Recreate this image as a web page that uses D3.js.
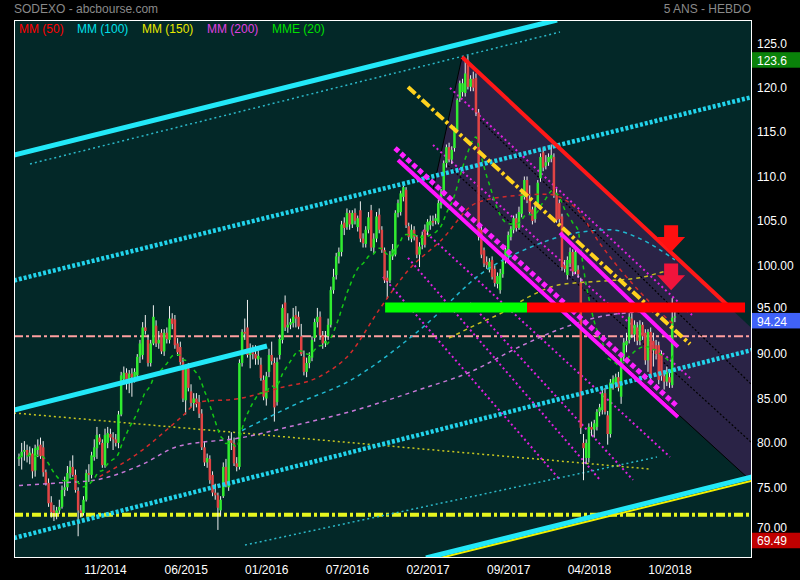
<!DOCTYPE html>
<html><head><meta charset="utf-8">
<script src="https://cdn.jsdelivr.net/npm/d3@7"></script>
<style>body{margin:0;background:#000;}svg{display:block;font-family:"Liberation Sans",Arial,sans-serif;}</style>
</head><body><svg id="c" width="800" height="580"></svg>
<script>
// ---- weekly OHLC (bar index 0..244) ----
const open=[78.2,78.4,79.0,79.2,78.6,78.8,76.9,79.2,79.8,79.5,76.7,75.5,73.3,72.4,72.1,72.4,72.8,74.7,75.0,76.6,
77.3,76.4,74.6,72.4,72.1,73.6,76.6,76.4,78.4,79.4,80.6,80.0,77.5,80.0,81.0,80.6,80.4,80.0,83.2,87.2,
87.9,87.0,87.8,87.4,87.6,89.7,89.9,93.0,91.6,89.0,91.2,93.2,91.2,92.4,90.3,92.4,91.6,94.0,93.9,91.2,
90.8,89.1,84.8,88.4,85.8,84.5,85.0,84.6,83.3,79.5,77.8,78.2,76.4,74.4,74.1,72.4,74.0,77.3,75.0,80.3,
80.0,77.7,77.3,89.0,92.5,93.0,89.9,90.2,90.0,89.4,88.8,87.1,85.0,88.0,89.9,89.0,84.6,89.9,91.6,95.8,
93.0,93.3,93.5,94.4,94.2,92.0,89.7,88.0,89.0,89.6,91.8,93.6,94.2,92.1,91.2,92.0,93.3,97.2,98.9,101.0,
101.5,104.8,104.3,105.9,104.6,105.9,104.3,106.2,103.0,102.4,104.0,106.2,102.0,103.0,105.7,104.0,101.7,98.6,98.3,101.0,
101.2,105.9,106.0,107.7,108.5,104.4,103.0,104.0,103.2,101.2,102.3,104.0,103.8,104.5,105.0,105.0,104.8,106.8,108.1,111.5,
113.3,111.9,113.2,115.2,118.8,119.5,119.4,123.1,120.1,121.0,121.1,117.2,104.0,101.7,100.4,99.5,100.6,99.6,97.9,97.2,
99.0,100.6,101.0,103.2,104.0,105.3,104.2,105.8,107.7,109.6,107.3,106.3,105.2,107.0,109.8,112.7,111.2,111.6,112.0,112.2,
108.1,107.0,105.5,100.0,98.9,100.2,101.5,99.3,99.5,98.1,80.0,78.3,78.3,81.8,81.5,81.8,83.5,83.7,85.6,83.1,
81.0,86.6,86.8,87.4,85.2,89.7,91.0,91.6,94.0,92.2,93.0,91.5,93.3,92.4,89.3,92.5,91.5,91.0,91.0,90.0,
87.5,86.9,87.4,86.5,94.1];
const high=[78.8,80.0,80.2,79.8,79.6,79.4,79.8,80.4,80.6,80.2,77.0,76.0,74.0,73.0,72.8,73.6,75.2,76.2,77.4,78.0,
78.6,77.0,75.0,73.0,74.0,77.0,77.6,79.0,80.4,81.8,81.0,80.4,81.6,81.8,81.6,81.2,81.0,83.6,88.0,88.6,
88.4,88.2,88.4,88.4,90.0,91.6,93.6,94.4,92.2,91.6,95.5,93.8,92.6,92.8,92.8,93.0,95.4,94.6,94.4,91.8,
91.4,89.6,88.8,89.0,86.6,85.6,85.6,85.4,83.8,80.2,78.8,78.6,76.8,75.4,74.4,74.0,77.8,78.2,80.8,81.2,
80.6,78.4,89.4,92.8,94.0,96.1,91.2,91.0,91.0,90.4,89.6,87.6,88.0,90.6,91.4,89.6,89.6,92.2,95.6,96.6,
94.6,94.0,95.2,95.4,94.8,93.4,90.4,89.6,90.2,92.0,94.0,95.2,94.8,92.6,92.6,94.0,97.6,99.6,101.4,102.0,
105.0,105.4,106.4,106.2,106.2,106.4,105.6,107.2,103.6,104.4,106.0,106.8,103.6,106.0,106.4,104.4,102.0,99.4,101.6,102.4,
106.2,107.4,108.4,109.2,108.8,104.8,104.6,104.4,103.4,102.6,103.8,104.6,105.2,105.6,105.6,105.8,107.4,108.6,111.8,113.6,
113.8,113.4,115.6,118.8,120.8,121.0,123.3,123.6,121.4,121.8,121.6,117.6,104.4,102.0,101.0,100.8,101.0,100.0,99.2,99.6,
100.8,102.2,103.8,104.4,105.6,105.8,106.6,108.4,110.0,110.0,109.0,106.6,106.8,109.6,112.6,113.2,112.4,112.6,113.6,112.6,
108.6,107.4,105.8,100.6,101.0,102.0,101.8,102.0,100.0,98.6,81.0,80.4,82.2,82.4,82.6,83.8,84.4,86.0,86.2,83.6,
87.2,87.6,87.8,88.0,90.0,91.8,92.4,94.6,94.6,93.8,93.6,93.8,93.6,92.8,92.8,93.0,92.4,91.6,91.4,90.4,
88.0,88.6,88.0,96.3,94.8];
const low=[77.4,77.0,78.0,77.8,77.6,76.0,76.2,78.4,78.2,76.2,75.2,72.8,71.6,71.2,71.4,72.0,72.6,74.0,74.6,76.0,
76.2,74.4,69.49,71.6,71.8,73.4,75.6,76.0,78.0,78.2,79.8,77.2,77.2,79.4,80.2,79.2,79.6,79.4,83.0,86.6,
86.0,85.6,85.2,86.8,87.0,89.0,89.4,92.2,88.6,88.6,91.0,90.8,90.6,90.0,89.8,91.2,91.2,92.8,90.6,89.8,
88.8,84.6,83.2,85.8,84.0,83.6,84.0,82.8,79.2,77.4,77.2,75.4,74.0,73.6,70.2,71.8,73.8,75.0,74.6,79.2,
77.4,76.8,77.0,88.6,91.6,89.6,88.4,89.4,88.8,88.8,87.0,84.8,84.2,87.4,88.8,82.4,84.2,89.4,91.2,92.6,
92.4,92.8,93.0,93.0,92.8,89.8,87.6,87.4,88.4,89.2,91.4,93.0,91.6,90.6,90.8,91.6,93.0,96.8,98.4,100.2,
101.0,103.4,104.0,104.0,104.2,104.6,103.8,102.6,102.0,102.0,103.6,101.6,101.4,102.6,103.6,101.4,98.0,96.2,98.0,100.6,
101.0,105.4,105.6,107.2,104.2,102.8,102.6,102.8,100.8,99.8,101.8,102.0,103.4,104.0,104.4,104.6,104.6,106.4,107.8,111.0,
111.6,111.4,112.8,115.0,118.4,119.0,119.0,119.8,119.6,119.6,116.8,102.8,100.8,99.8,99.6,99.2,98.4,97.6,97.4,96.8,
98.6,100.2,100.6,102.8,103.6,103.8,104.0,105.4,107.4,107.0,105.8,104.6,104.8,106.6,109.4,110.6,110.8,111.2,111.6,107.6,
104.8,104.8,99.4,99.2,98.4,99.8,98.8,99.0,98.6,81.0,75.8,77.6,77.8,80.8,80.6,81.4,83.0,83.2,83.2,79.8,
80.6,86.0,86.2,85.8,84.4,89.2,90.2,91.2,91.8,91.4,91.0,91.0,91.6,88.8,88.0,87.0,88.6,89.4,86.6,87.0,
86.0,86.4,86.2,86.2,93.6];
const close=[78.4,79.0,79.2,78.6,78.9,76.8,79.4,79.6,78.5,76.7,75.4,73.2,72.2,72.1,72.4,72.8,74.7,75.0,76.6,77.3,
76.4,74.7,72.4,72.1,73.6,76.6,76.4,78.6,79.5,80.9,80.1,77.5,80.9,81.1,80.6,80.4,80.0,83.2,87.6,87.9,
87.1,87.8,87.4,88.0,89.7,91.2,93.0,92.6,89.0,91.2,94.2,91.2,91.6,90.3,92.4,91.7,94.0,93.4,91.0,90.2,
89.1,85.0,88.4,86.2,84.5,85.0,84.6,83.3,79.5,77.8,78.3,75.8,74.4,74.1,72.7,73.6,77.3,75.3,80.3,80.0,
77.7,77.3,89.0,92.5,92.3,89.9,90.2,90.0,89.5,89.8,87.3,85.2,87.5,89.9,89.2,84.0,89.1,91.7,95.2,93.0,
93.3,93.6,94.2,94.0,93.1,90.0,88.0,89.0,89.8,91.6,93.6,94.2,92.1,91.2,91.5,93.3,97.2,98.7,101.0,101.5,
104.6,104.2,105.9,104.6,105.9,105.0,105.3,103.0,102.5,104.0,105.4,102.0,103.0,105.5,104.0,101.7,98.3,98.2,101.2,101.8,
105.9,107.0,108.1,108.8,104.5,103.2,104.0,103.2,101.2,102.1,103.4,102.3,104.9,105.0,104.8,105.3,107.0,108.1,111.5,113.3,
111.9,113.0,115.2,118.6,120.5,120.5,121.6,120.1,121.0,120.0,117.2,103.2,101.2,100.2,100.0,100.4,98.7,98.0,98.8,99.1,
100.4,101.8,103.4,104.1,105.3,104.2,106.0,108.1,109.6,107.3,106.0,105.0,106.5,109.3,112.2,111.0,111.6,112.2,112.4,108.0,
105.1,105.2,99.8,99.6,100.6,101.5,99.3,101.5,99.0,81.7,79.4,80.0,81.8,81.5,82.2,83.5,84.0,85.6,83.5,81.0,
86.8,87.2,87.4,86.2,89.7,91.3,91.5,94.2,92.2,93.3,91.5,93.3,92.0,89.3,92.5,87.5,90.5,90.0,87.1,87.5,
86.9,88.0,86.8,94.1,94.24];

// ---- axis ticks ----
const tickIdx=[32,62,92,122,152,182,212,242];
const tickLabels=["11/2014","06/2015","01/2016","07/2016","02/2017","09/2017","04/2018","10/2018"];
const priceTicks=[125,120,115,110,105,100,95,90,85,80,75,70];
const priceTickLabels=["125.0","120.0","115.0","110.0","105.0","100.00","95.00","90.00","85.00","80.00","75.00","70.00"];
const markHigh=123.6, markLast=94.24, markLow=69.49;
const markLabels=["123.6","94.24","69.49"];

// ---- moving averages: [barIndex, price] ----
const mm50=[[30,76.2],[45,79],[60,82.8],[67,84.6],[82,85],[97,86.2],[112,87.5],[123,90],[134,95],[145,99.5],[157,102.8],[170,107],[183,107.8],[196,108],[207,106.5],[216,102.5],[231,97],[244,93.2]];
const mm100=[[83,81.4],[104,84.5],[123,87],[149,92.7],[174,99.5],[190,102],[205,103.5],[220,104],[231,103],[244,100.6]];
const mm150=[[160,91.8],[170,93.3],[180,94.7],[190,96.5],[201,97.8],[216,98.2],[231,98.6],[240,99.3],[244,99.6]];
const mm200=[[0,75.2],[15,75.5],[28,75.8],[46,77.6],[59,79.6],[83,80.6],[103,82],[123,83.5],[149,86],[168,88],[186,90.8],[202,92.9],[216,94.2],[231,94.8],[244,95.2]];

// ---- drawn trend lines: [i1,p1,i2,p2] ----
const cyanSolid=[[-1.86,112.42,200.15,127.62],[-1.86,83.70,92.26,90.91],[151.41,67.04,272.69,76.16]];
const cyanDotted=[[-1.86,98.29,272.69,118.95],[-1.86,69.29,272.69,90.46]];
const cyanThin=[[4.09,111.41,201.26,126.27],[84.08,68.50,237.35,78.41]];
const yellowSolid=[[156.6,67.04,272.69,75.75]];
const yellowThin=[[-1.86,83.37,234.75,77.06]];
const redTrend=[[164.81,123.46,263.39,95.55]];
const yellowDashDot=[[144.72,120.07,249.63,91.13]];
const magentaDotted=[[139.88,113.20,245.16,84.04]];
const magentaSolid=[[141.0,111.86,245.16,82.91],[201.26,103.65,245.16,90.81]];
const magentaThin=[[160.34,119.97,250.37,94.41],[154.02,113.55,249.63,87.31],[135.42,98.69,201.26,75.83],[144.72,100.83,216.15,75.83],[150.3,103.98,242.19,78.42],[167.78,95.77,228.42,75.83]];
const blackSolid=[[164.81,123.46,154.02,108.47],[154.02,108.47,272.69,75.62]];
const blackDotted=[[158.48,111.52,272.69,79.99],[171.5,116.36,272.69,86.52]];
const channelArea=[[164.81,123.46],[272.69,92.89],[272.69,75.62],[154.02,108.47]];
const supportLevel=71.9, pivotLevel=92.0;
const zoneLevel=95.25, zoneGreen=[136.2,189.0], zoneRed=[189.0,270.1];
const arrowIdx=[242.6,242.6], arrowTop=[104.5,100.2], arrowTip=[101.5,97.2];

const series=[{n:"MM (50)",c:"#ff0000"},{n:"MM (100)",c:"#00e0e8"},{n:"MM (150)",c:"#e8e800"},{n:"MM (200)",c:"#e040e0"},{n:"MME (20)",c:"#00e000"}];

// ---- scales ----
const L=14,R=752,T=20,B=558;
const x=d3.scaleLinear().domain([-1.86,272.69]).range([L,R]);
const y=d3.scaleLinear().domain([67.04,127.62]).range([B,T]);
const svg=d3.select("#c");
svg.append("rect").attr("width",800).attr("height",580).attr("fill","#000");
svg.append("defs").append("clipPath").attr("id","clip").append("rect").attr("x",L).attr("y",T).attr("width",R-L).attr("height",B-T);
svg.append("rect").attr("x",L).attr("y",T).attr("width",R-L).attr("height",B-T).attr("fill","#032828");
const g=svg.append("g").attr("clip-path","url(#clip)");

// channel fill
g.append("path").attr("d",d3.line().x(d=>x(d[0])).y(d=>y(d[1]))(channelArea)+"Z").attr("fill","#2a2346");

function seg(arr,stroke,w,dash){
  g.selectAll(null).data(arr).enter().append("line")
   .attr("x1",d=>x(d[0])).attr("y1",d=>y(d[1])).attr("x2",d=>x(d[2])).attr("y2",d=>y(d[3]))
   .attr("stroke",stroke).attr("stroke-width",w).attr("stroke-dasharray",dash||null);
}
// horizontal levels
seg([[-1.86,supportLevel,272.69,supportLevel]],"#e6f51e",4,"9,3,3,3");
seg([[-1.86,pivotLevel,272.69,pivotLevel]],"#ff9f9f",2,"9,3,3,3");
seg(blackSolid,"#000",1);
seg(blackDotted,"#000",1.2,"2,2");
seg(magentaThin,"#e020e0",2,"2,3");
seg(cyanThin,"#2bb8c8",1.5,"2,3");
seg(yellowThin,"#c8c820",1.5,"2,3");

// candles
const idx=d3.range(close.length);
g.append("g").selectAll("line").data(idx).enter().append("line")
 .attr("x1",i=>x(i)).attr("x2",i=>x(i)).attr("y1",i=>y(high[i])).attr("y2",i=>y(low[i]))
 .attr("stroke","#f0f0f0").attr("stroke-width",1);
g.append("g").selectAll("rect").data(idx).enter().append("rect")
 .attr("x",i=>x(i)-1.25).attr("width",2.5)
 .attr("y",i=>y(Math.max(open[i],close[i])))
 .attr("height",i=>Math.max(1,Math.abs(y(open[i])-y(close[i]))))
 .attr("fill",i=>close[i]>=open[i]?"#30ec30":"#e04444");

// moving averages
const ln=d3.line().x(d=>x(d[0])).y(d=>y(d[1])).curve(d3.curveMonotoneX);
const k=2/21; let e=close[0];
const mme20=close.map((c,i)=>[i,(e=i?c*k+e*(1-k):c)]);
[[mm200,"#c878d8"],[mm150,"#c8c020"],[mm100,"#20b8d0"],[mm50,"#d02a2a"],[mme20,"#14c814"]].forEach(([d,c])=>{
  g.append("path").attr("d",ln(d)).attr("fill","none").attr("stroke",c).attr("stroke-width",1.5).attr("stroke-dasharray","4,4");
});

// trend lines
seg(cyanDotted,"#22d4ec",4.5,"3,2");
seg(yellowSolid,"#f0f000",2);
seg(cyanSolid,"#22e8f8",5);
seg(magentaSolid,"#ff14ff",4);
seg(magentaDotted,"#ff20ff",5,"5,3");
seg(yellowDashDot,"#ffd21e",4,"10,3,3,3");
seg(redTrend,"#ff1818",4);
// zone bars
seg([[zoneGreen[0],zoneLevel,zoneGreen[1],zoneLevel]],"#00ff00",10);
seg([[zoneRed[0],zoneLevel,zoneRed[1],zoneLevel]],"#ff0000",10);
// arrows
arrowIdx.forEach((ai,j)=>{
  const cx=x(ai),t=y(arrowTop[j]),b=y(arrowTip[j]),hh=15;
  g.append("path").attr("d",`M${cx-7},${t}H${cx+7}V${b-hh}H${cx+14}L${cx},${b}L${cx-14},${b-hh}H${cx-7}Z`)
   .attr("fill",j?"#f0143c":"#ff1010");
});

// frame
svg.append("rect").attr("x",L+0.5).attr("y",T+0.5).attr("width",R-L-1).attr("height",B-T-1).attr("fill","none").attr("stroke","#fff").attr("stroke-width",1);

// right axis
const ya=svg.append("g").attr("transform",`translate(${R},0)`)
 .call(d3.axisRight(y).tickValues(priceTicks).tickFormat((d,i)=>priceTickLabels[i]).tickSize(0).tickPadding(5));
ya.select(".domain").remove();
ya.selectAll("text").attr("fill","#fff").style("font-size","12px").style("font-family","'Liberation Sans',Arial,sans-serif")
  .attr("y",d=>d===95?-2:(d===70?-4.5:0));
// value boxes
[[markHigh,"#0a820a"],[markLast,"#4062f8"],[markLow,"#c00000"]].forEach(([v,c],j)=>{
  svg.append("rect").attr("x",R).attr("y",y(v)-3.5).attr("width",48).attr("height",15.5).attr("fill",c);
  svg.append("text").attr("x",R+5).attr("y",y(v)+5).attr("dy","0.35em").attr("fill","#fff").style("font-size","12px").text(markLabels[j]);
});

// bottom axis
const xa=svg.append("g").attr("transform",`translate(0,${B})`)
 .call(d3.axisBottom(x).tickValues(tickIdx).tickFormat((d,i)=>tickLabels[i]).tickSize(0).tickPadding(7));
xa.select(".domain").remove();
xa.selectAll("text").attr("fill","#fff").style("font-size","12px").style("font-family","'Liberation Sans',Arial,sans-serif");

// titles
svg.append("text").attr("x",14).attr("y",9).attr("dy","0.35em").attr("fill","#8a8a8a").style("font-size","12px").text("SODEXO - abcbourse.com");
svg.append("text").attr("x",751).attr("y",9).attr("dy","0.35em").attr("text-anchor","end").attr("fill","#8a8a8a").style("font-size","12px").text("5 ANS - HEBDO");
// legend
const lx=[19,77,142,207,272];
series.forEach((s,i)=>{
  svg.append("text").attr("x",lx[i]).attr("y",28.5).attr("dy","0.35em").attr("fill",s.c).style("font-size","12px").text(s.n);
});
</script></body></html>
